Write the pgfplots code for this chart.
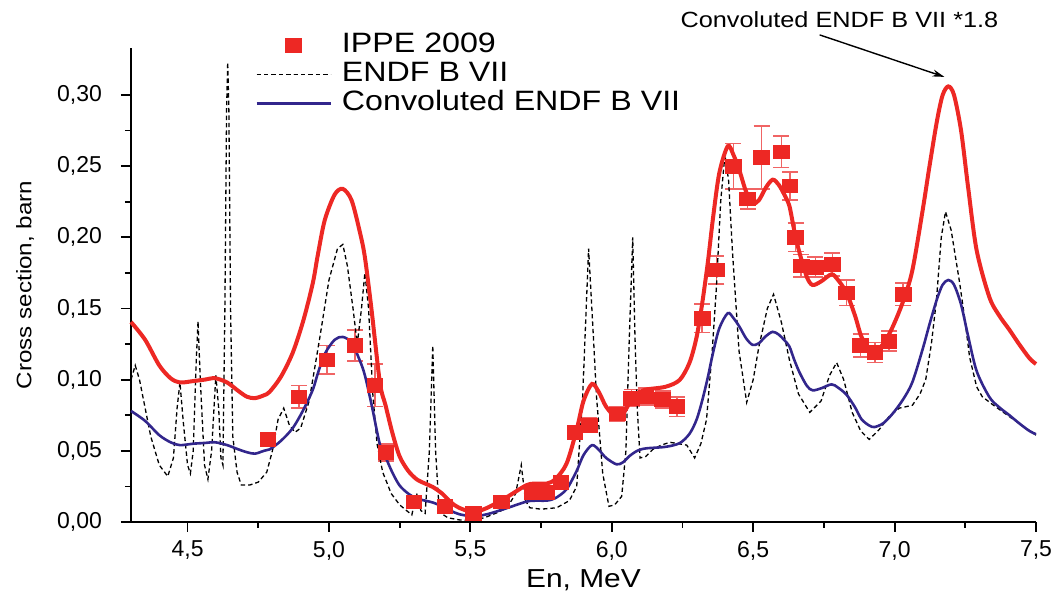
\documentclass[border=0pt]{standalone}
\usepackage{fontspec}
\setmainfont{Liberation Sans}[FakeStretch=1.15]
\newfontfamily\tickfont{Liberation Sans}
\usepackage{pgfplots}
\pgfplotsset{compat=1.18}
\usetikzlibrary{calc,arrows.meta}
\definecolor{myred}{RGB}{237,40,36}
\definecolor{errred}{RGB}{240,100,100}
\definecolor{myblue}{RGB}{50,38,140}

\begin{document}
\begin{tikzpicture}
\begin{axis}[name=ax, scale only axis, width=452.5pt, height=237pt,
  xmin=4.3, xmax=7.5, ymin=0, ymax=0.333,
  axis lines*=left, axis line style={line width=1pt},
  tick align=outside, major tick length=5pt, minor tick length=3pt,
  every tick/.style={black, line width=0.9pt},
  xtick={4.5,5,5.5,6,6.5,7,7.5}, minor x tick num=1,
  ytick={0,0.05,0.10,0.15,0.20,0.25,0.30}, minor y tick num=1,
  /pgf/number format/assume math mode=true,
  tick label style={font=\tickfont\fontsize{11.5}{13}\selectfont},
  xticklabel style={yshift=-1pt, /pgf/number format/.cd, fixed, precision=1, zerofill, use comma},
  yticklabel style={xshift=-6pt, /pgf/number format/.cd, fixed, precision=2, zerofill, use comma},
  scaled y ticks=false,
  xlabel={En, MeV}, ylabel={Cross section, barn},
  xlabel style={font=\fontsize{13}{15}\selectfont, at={(rel axis cs:0.5,0)}, anchor=center, yshift=-29pt},
  ylabel style={font=\fontsize{10.5}{12}\selectfont, at={(rel axis cs:0,0.5)}, anchor=center, yshift=53pt},
  clip=false,
  legend cell align=left,
  legend image code/.code={\draw[mark repeat=2,mark phase=2,#1] plot coordinates {(0pt,0pt) (18.5pt,0pt) (37pt,0pt)};},
  legend style={draw=none, fill=none, inner sep=0pt, at={(rel axis cs:0.137,1.037)}, anchor=north west,
    font=\fontsize{14}{16}\selectfont,
    /tikz/every odd column/.append style={column sep=4pt},
    nodes={text height=10pt, text depth=2.5pt, inner sep=1pt}},
]
% IPPE 2009
\addplot+[only marks, mark=square*, mark size=3.4pt, mark options={fill=myred, draw=myred, xscale=1.15},
  error bars/.cd, y dir=both, y explicit,
  error bar style={errred, line width=0.8pt},
  error mark options={rotate=90, mark size=4pt, errred, line width=0.8pt}]
  table[x=x, y=y, y error=e] {
x y e
4.784 0.058 0.004
4.894 0.088 0.008
4.993 0.114 0.010
5.092 0.124 0.011
5.162 0.096 0.015
5.201 0.049 0.006
5.300 0.014 0.003
5.410 0.011 0.002
5.510 0.006 0.002
5.610 0.014 0.002
5.720 0.021 0.003
5.770 0.021 0.003
5.820 0.028 0.003
5.870 0.063 0.004
5.920 0.068 0.005
6.020 0.076 0.005
6.070 0.087 0.006
6.120 0.088 0.006
6.180 0.086 0.006
6.230 0.081 0.007
6.320 0.143 0.010
6.370 0.177 0.010
6.430 0.250 0.016
6.480 0.227 0.007
6.530 0.256 0.022
6.600 0.260 0.011
6.630 0.236 0.010
6.650 0.200 0.010
6.670 0.180 0.008
6.720 0.179 0.007
6.780 0.181 0.008
6.830 0.161 0.009
6.880 0.124 0.008
6.930 0.119 0.007
6.980 0.127 0.007
7.030 0.160 0.008
};
\addlegendentry{IPPE 2009}
% ENDF B VII
\addplot[black, line width=0.65pt, dash pattern=on 2.2pt off 1.5pt, no marks] table {
4.300 0.100
4.315 0.110
4.330 0.100
4.370 0.060
4.400 0.040
4.430 0.032
4.450 0.045
4.463 0.080
4.473 0.098
4.485 0.070
4.500 0.040
4.510 0.034
4.520 0.050
4.530 0.110
4.537 0.141
4.545 0.100
4.560 0.040
4.572 0.030
4.585 0.050
4.600 0.103
4.610 0.080
4.618 0.045
4.625 0.040
4.632 0.150
4.638 0.290
4.642 0.323
4.646 0.290
4.652 0.150
4.660 0.060
4.675 0.035
4.690 0.026
4.720 0.026
4.750 0.028
4.780 0.035
4.800 0.050
4.820 0.072
4.840 0.080
4.860 0.068
4.880 0.063
4.900 0.066
4.930 0.085
4.968 0.130
5.000 0.170
5.030 0.192
5.049 0.195
5.065 0.180
5.085 0.150
5.100 0.125
5.115 0.150
5.127 0.175
5.140 0.150
5.155 0.090
5.170 0.055
5.190 0.035
5.220 0.020
5.250 0.012
5.293 0.005
5.310 0.020
5.325 0.008
5.340 0.006
5.355 0.050
5.367 0.124
5.377 0.050
5.390 0.007
5.420 0.003
5.460 0.0015
5.500 0.001
5.550 0.003
5.600 0.007
5.630 0.010
5.660 0.020
5.680 0.040
5.695 0.015
5.710 0.010
5.750 0.009
5.805 0.010
5.850 0.015
5.876 0.025
5.897 0.088
5.918 0.192
5.935 0.130
5.946 0.088
5.968 0.034
5.990 0.011
6.010 0.012
6.035 0.018
6.050 0.050
6.062 0.130
6.074 0.200
6.082 0.130
6.090 0.080
6.100 0.045
6.120 0.046
6.145 0.051
6.175 0.054
6.205 0.056
6.235 0.055
6.265 0.054
6.293 0.045
6.315 0.055
6.335 0.072
6.355 0.120
6.370 0.165
6.385 0.225
6.400 0.258
6.413 0.240
6.427 0.189
6.450 0.120
6.477 0.084
6.500 0.100
6.520 0.123
6.550 0.150
6.572 0.160
6.600 0.140
6.628 0.114
6.660 0.090
6.700 0.077
6.740 0.085
6.770 0.103
6.795 0.112
6.820 0.100
6.850 0.077
6.880 0.064
6.910 0.058
6.946 0.065
6.980 0.074
7.017 0.080
7.063 0.082
7.090 0.090
7.110 0.100
7.130 0.125
7.148 0.156
7.165 0.200
7.180 0.218
7.200 0.205
7.230 0.168
7.250 0.140
7.265 0.116
7.290 0.095
7.310 0.088
7.350 0.082
7.406 0.074
7.450 0.068
7.500 0.061
};
\addlegendentry{ENDF B VII}
% Convoluted ENDF B VII
\addplot[myblue, line width=1.3pt, smooth, no marks] table {
4.300 0.078
4.350 0.071
4.400 0.061
4.440 0.056
4.473 0.054
4.520 0.055
4.560 0.0555
4.597 0.056
4.640 0.054
4.680 0.051
4.710 0.049
4.738 0.048
4.770 0.050
4.790 0.051
4.830 0.057
4.872 0.066
4.910 0.079
4.943 0.093
4.960 0.104
4.985 0.118
5.020 0.128
5.049 0.130
5.080 0.126
5.110 0.113
5.127 0.103
5.150 0.083
5.180 0.0545
5.200 0.0456
5.225 0.0344
5.250 0.0256
5.280 0.020
5.310 0.0165
5.340 0.015
5.367 0.0137
5.400 0.011
5.430 0.008
5.460 0.0055
5.510 0.004
5.560 0.0055
5.630 0.0098
5.700 0.0144
5.740 0.015
5.770 0.015
5.800 0.0167
5.840 0.023
5.876 0.036
5.900 0.047
5.930 0.054
5.955 0.0505
5.980 0.045
6.017 0.0405
6.040 0.042
6.063 0.0464
6.090 0.050
6.120 0.0517
6.190 0.0528
6.240 0.0554
6.275 0.062
6.300 0.072
6.320 0.0855
6.340 0.102
6.357 0.118
6.380 0.136
6.410 0.1467
6.430 0.1433
6.452 0.137
6.475 0.129
6.498 0.1244
6.520 0.1256
6.545 0.1306
6.569 0.1336
6.590 0.1317
6.610 0.1278
6.628 0.1233
6.645 0.114
6.664 0.105
6.690 0.0956
6.710 0.0925
6.740 0.0939
6.777 0.0967
6.800 0.0944
6.830 0.0894
6.860 0.0806
6.883 0.0722
6.910 0.0678
6.929 0.0667
6.960 0.0694
6.993 0.0761
7.030 0.0861
7.063 0.0983
7.100 0.122
7.123 0.1386
7.150 0.1567
7.170 0.1667
7.190 0.170
7.210 0.1667
7.235 0.1528
7.260 0.1306
7.290 0.1061
7.335 0.0878
7.370 0.0806
7.406 0.075
7.440 0.0694
7.477 0.0639
7.500 0.0617
};
\addlegendentry{Convoluted ENDF B VII}
% Convoluted x 1.8
\addplot[myred, line width=2pt, smooth, no marks, forget plot] table {
4.300 0.1405
4.350 0.128
4.400 0.110
4.440 0.101
4.473 0.098
4.520 0.099
4.560 0.100
4.597 0.101
4.640 0.098
4.680 0.092
4.710 0.088
4.738 0.087
4.770 0.089
4.790 0.0914
4.830 0.102
4.872 0.119
4.910 0.142
4.943 0.168
4.960 0.187
4.985 0.212
5.020 0.230
5.049 0.234
5.080 0.226
5.110 0.203
5.127 0.186
5.150 0.150
5.180 0.098
5.200 0.082
5.225 0.062
5.250 0.046
5.280 0.036
5.310 0.030
5.340 0.027
5.367 0.0246
5.400 0.020
5.430 0.014
5.460 0.010
5.510 0.007
5.560 0.010
5.630 0.0176
5.700 0.026
5.740 0.027
5.770 0.027
5.800 0.030
5.840 0.041
5.876 0.065
5.900 0.085
5.930 0.097
5.955 0.091
5.980 0.081
6.017 0.073
6.040 0.076
6.063 0.0836
6.090 0.090
6.120 0.093
6.190 0.095
6.240 0.0998
6.275 0.112
6.300 0.130
6.320 0.154
6.340 0.183
6.357 0.212
6.380 0.245
6.410 0.264
6.430 0.258
6.452 0.2465
6.475 0.232
6.498 0.224
6.520 0.226
6.545 0.235
6.569 0.2405
6.590 0.237
6.610 0.230
6.628 0.222
6.645 0.205
6.664 0.189
6.690 0.172
6.710 0.1665
6.740 0.169
6.777 0.174
6.800 0.170
6.830 0.161
6.860 0.145
6.883 0.130
6.910 0.122
6.929 0.120
6.960 0.125
6.993 0.137
7.030 0.155
7.063 0.177
7.100 0.220
7.123 0.2495
7.150 0.282
7.170 0.300
7.190 0.306
7.210 0.300
7.235 0.275
7.260 0.235
7.290 0.191
7.335 0.158
7.370 0.145
7.406 0.135
7.440 0.125
7.477 0.115
7.500 0.111
};
\draw[-{Stealth[length=6pt,width=3.5pt]}, line width=0.7pt] (axis cs:6.735,0.3422) -- (axis cs:7.176,0.3127);
\node[font=\fontsize{11}{13}\selectfont, anchor=center] at (axis cs:6.805,0.3528) {Convoluted ENDF B VII *1.8};
\end{axis}
\pgfresetboundingbox
\path ($(ax.south west)+(-65.5pt,-38pt)$) rectangle ($(ax.north east)+(9pt,24pt)$);
\end{tikzpicture}
\end{document}
